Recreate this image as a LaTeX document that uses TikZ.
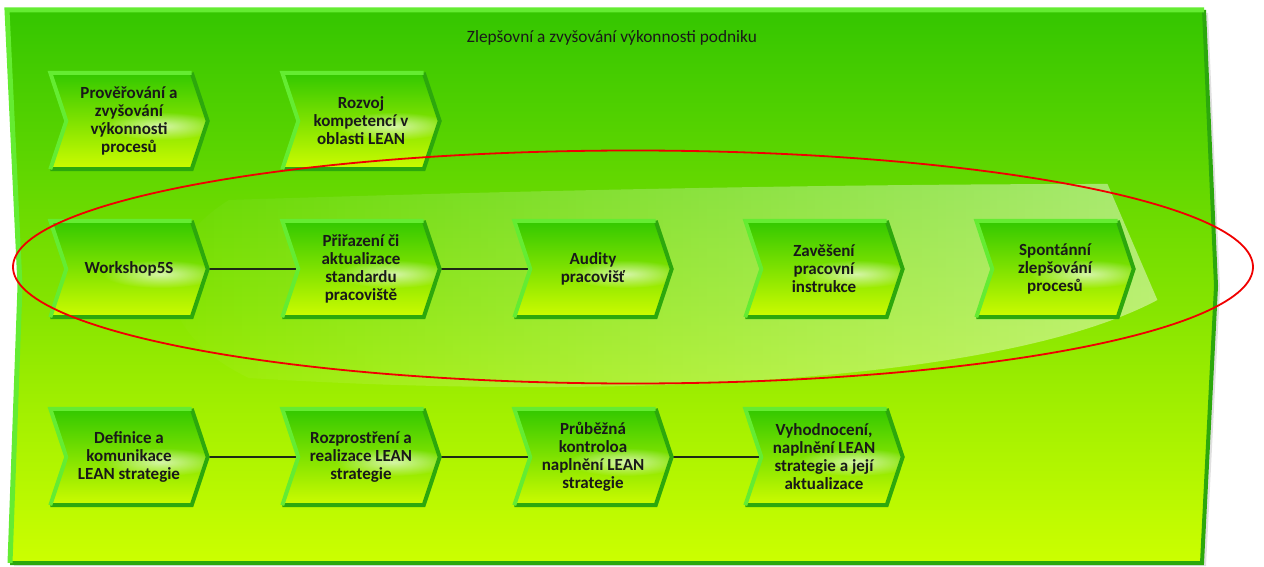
\documentclass[tikz,border=0pt]{standalone}
\usepackage{fontspec}
\setmainfont{Carlito}
\usetikzlibrary{calc,fadings}

\pgfdeclarelayer{panel}
\pgfdeclarelayer{links}
\pgfdeclarelayer{shapes}
\pgfsetlayers{panel,links,shapes,main}

\definecolor{panelTop}{RGB}{52,198,0}
\definecolor{panelMid}{RGB}{112,222,0}
\definecolor{panelBot}{RGB}{204,255,0}
\definecolor{edgeLight}{RGB}{100,236,50}
\definecolor{edgeDark}{RGB}{44,168,12}
\definecolor{stepTop}{RGB}{50,200,0}
\definecolor{stepBot}{RGB}{205,252,0}
\definecolor{linkCol}{RGB}{30,40,20}
\definecolor{ringRed}{RGB}{240,0,0}

\tikzfading[name=glossfade, left color=transparent!100, middle color=transparent!88, right color=transparent!0]
\tikzfading[name=spotfade, inner color=transparent!0, outer color=transparent!100]

\tikzset{
  stepbox/.style={minimum width=157pt, minimum height=96pt, inner sep=0pt,
    align=center, text=black!90,
    font=\bfseries\fontsize{17}{18}\selectfont},
  link/.style={draw=linkCol, line width=2pt},
  ring/.style={draw=ringRed, line width=1.8pt},
  titletext/.style={font=\fontsize{17.3}{20}\selectfont, text=black!90},
}

% chevron body behind a named step node
\newcommand\chevron[1]{%
  \coordinate (#1-a) at (#1.north west);
  \coordinate (#1-b) at ($(#1.north east)+(-16,0)$);
  \coordinate (#1-c) at (#1.east);
  \coordinate (#1-d) at ($(#1.south east)+(-16,0)$);
  \coordinate (#1-e) at (#1.south west);
  \coordinate (#1-f) at ($(#1.west)+(16,0)$);
  \begin{pgfonlayer}{shapes}
    \fill[black, opacity=.18, shift={(3,4)}]
      (#1-a) -- (#1-b) -- (#1-c) -- (#1-d) -- (#1-e) -- (#1-f) -- cycle;
    \shade[top color=stepTop, bottom color=stepBot]
      (#1-a) -- (#1-b) -- (#1-c) -- (#1-d) -- (#1-e) -- (#1-f) -- cycle;
    \begin{scope}
      \clip (#1-a) -- (#1-b) -- (#1-c) -- (#1-d) -- (#1-e) -- (#1-f) -- cycle;
      \fill[white, opacity=.65, path fading=spotfade]
        ($(#1.center)+(32,5)$) ellipse [x radius=58, y radius=14];
    \end{scope}
    \draw[edgeDark, line width=4pt, line join=miter]
      (#1-b) -- (#1-c) -- (#1-d) -- (#1-e);
    \draw[edgeLight, line width=4pt, line join=miter]
      (#1-e) -- (#1-f) -- (#1-a) -- (#1-b);
  \end{pgfonlayer}}

\begin{document}
\begin{tikzpicture}[x=1pt, y=-1pt]
\useasboundingbox (0,0) rectangle (1264,567);

% panel
\begin{pgfonlayer}{panel}
  \fill[black, opacity=.12, shift={(4,3)}]
    (7,10) -- (1204,10) -- (1216,286) -- (1202,563) -- (10,563) -- (20,286) -- cycle;
  \shade[top color=panelTop, middle color=panelMid, bottom color=panelBot]
    (7,10) -- (1204,10) -- (1216,286) -- (1202,563) -- (10,563) -- (20,286) -- cycle;
  \fill[white, opacity=.45, path fading=glossfade]
    (230,200) .. controls (600,188) and (900,184) .. (1110,184)
    -- (1160,300)
    .. controls (1000,385) and (600,400) .. (250,378)
    .. controls (150,330) and (150,250) .. cycle;
  \draw[edgeDark, line width=4pt, line join=miter]
    (1204,10) -- (1216,286) -- (1202,563) -- (10,563);
  \draw[edgeLight, line width=5pt, line join=miter]
    (10,563) -- (20,286) -- (7,10) -- (1204,10);
\end{pgfonlayer}

\node[titletext] (title) at (612,38) {Zlepšovní a zvyšování výkonnosti podniku};

% top row
\node[stepbox] (p1) at (129,121) {Prověřování a\\zvyšování\\výkonnosti\\procesů};
\node[stepbox] (p2) at (361,121) {Rozvoj\\kompetencí v\\oblasti LEAN};

% middle row
\node[stepbox] (m1) at (129,269) {Workshop5S};
\node[stepbox] (m2) at (361,269) {Přiřazení či\\aktualizace\\standardu\\pracoviště};
\node[stepbox] (m3) at (593,269) {Audity\\pracovišť};
\node[stepbox] (m4) at (824,269) {Zavěšení\\pracovní\\instrukce};
\node[stepbox] (m5) at (1055,269) {Spontánní\\zlepšování\\procesů};

% bottom row
\node[stepbox] (b1) at (129,457) {Definice a\\komunikace\\LEAN strategie};
\node[stepbox] (b2) at (361,457) {Rozprostření a\\realizace LEAN\\strategie};
\node[stepbox] (b3) at (593,457) {Průběžná\\kontroloa\\naplnění LEAN\\strategie};
\node[stepbox] (b4) at (824,457) {Vyhodnocení,\\naplnění LEAN\\strategie a její\\aktualizace};

\foreach \n in {p1,p2,m1,m2,m3,m4,m5,b1,b2,b3,b4} {\chevron{\n}}

% connectors
\begin{pgfonlayer}{links}
  \draw[link] (m1.center) -- (m2.center);
  \draw[link] (m2.center) -- (m3.center);
  \draw[link] (b1.center) -- (b2.center);
  \draw[link] (b2.center) -- (b3.center);
  \draw[link] (b3.center) -- (b4.center);
\end{pgfonlayer}

% highlight ring
\draw[ring] (633,267) ellipse [x radius=620, y radius=116.5];
\end{tikzpicture}
\end{document}
